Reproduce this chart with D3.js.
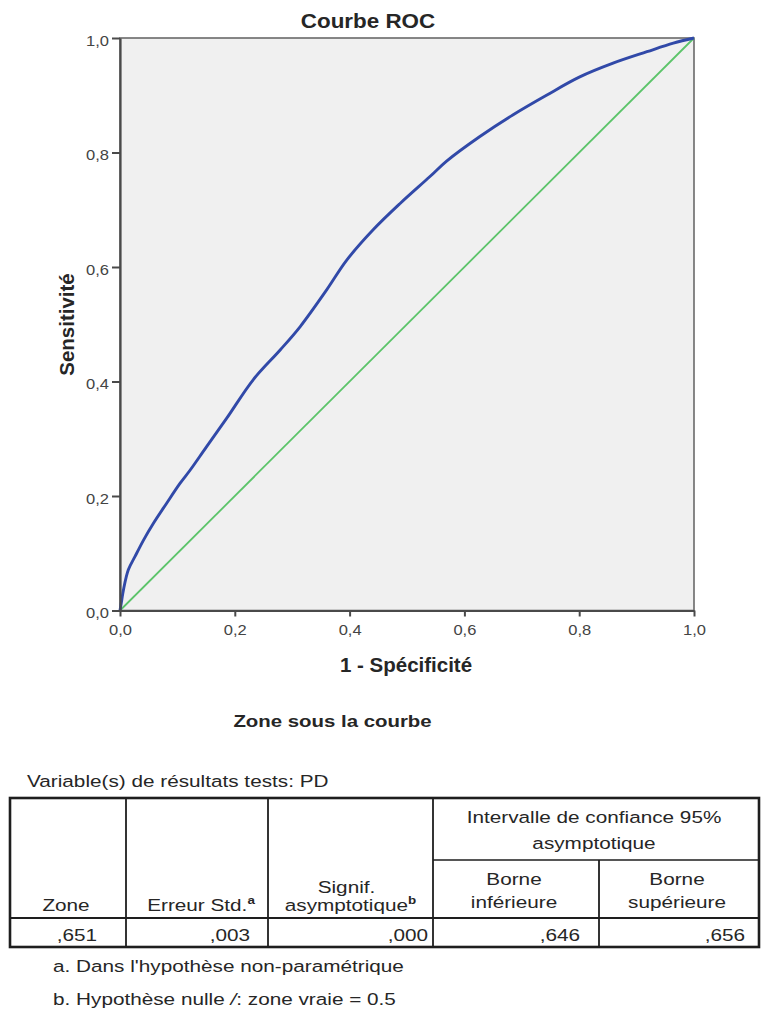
<!DOCTYPE html>
<html>
<head>
<meta charset="utf-8">
<script src="https://cdn.jsdelivr.net/npm/d3@7"></script>
<style>
  html, body { margin: 0; padding: 0; background: #fff; }
  svg { display: block; font-family: "Liberation Sans", Arial, sans-serif; }
</style>
</head>
<body>
<svg id="chart" width="763" height="1018"></svg>
<script>
// ROC curve: 1 - specificity (false positive rate) vs sensitivity
const fpr = [0, 0.003, 0.006, 0.0145, 0.026, 0.041, 0.058, 0.081, 0.1045, 0.122, 0.15, 0.186,
             0.232, 0.279, 0.314, 0.36, 0.395, 0.441, 0.488, 0.54, 0.569, 0.627, 0.685, 0.743,
             0.801, 0.859, 0.918, 0.964, 1];
const tpr = [0, 0.018, 0.036, 0.071, 0.094, 0.123, 0.152, 0.187, 0.222, 0.245, 0.285, 0.336,
             0.403, 0.455, 0.496, 0.56, 0.612, 0.665, 0.711, 0.758, 0.785, 0.828, 0.866, 0.9,
             0.932, 0.956, 0.976, 0.991, 1];
// reference (chance) diagonal
const refLine = [0, 1];
const axisTicks = [0, 0.2, 0.4, 0.6, 0.8, 1.0];

// area under the curve table
const aucColumns = ["Zone", "Erreur Std.", "Signif. asymptotique", "Borne inférieure", "Borne supérieure"];
const aucValues = [0.651, 0.003, 0.000, 0.646, 0.656];

const svg = d3.select("#chart");
const INK = "#262626";
const REG_SX = 1.22;   // wide rendering of the regular face

function txt(parent, x, y, str, o = {}) {
  const t = parent.append("text")
    .attr("transform", `translate(${x},${y}) scale(${o.sx || 1},1)` + (o.rot ? ` rotate(${o.rot})` : ""))
    .attr("text-anchor", o.anchor || "start")
    .attr("font-size", o.size || 17)
    .attr("font-weight", o.weight || "normal")
    .attr("fill", o.fill || INK);
  if (str !== null) t.text(str);
  return t;
}

const comma = v => d3.format(".1f")(v).replace(".", ",");
const spss = v => d3.format(".3f")(v).replace(/^0\./, ",");

// ---------- chart ----------
const x = d3.scaleLinear().domain([0, 1]).range([120, 694]);
const y = d3.scaleLinear().domain([0, 1]).range([610.5, 38]);

svg.append("rect")
  .attr("x", x(0)).attr("y", y(1))
  .attr("width", x(1) - x(0)).attr("height", y(0) - y(1))
  .attr("fill", "#f0f0f0")
  .attr("stroke", "#6a6a6a").attr("stroke-width", 1.6);

// chance diagonal
svg.append("path")
  .datum(refLine)
  .attr("d", d3.line().x(d => x(d)).y(d => y(d)))
  .attr("fill", "none").attr("stroke", "#5cc46a").attr("stroke-width", 1.8);

// ROC curve
svg.append("path")
  .datum(d3.range(fpr.length))
  .attr("d", d3.line().curve(d3.curveCatmullRom.alpha(0.5)).x(i => x(fpr[i])).y(i => y(tpr[i])))
  .attr("fill", "none").attr("stroke", "#3149a8").attr("stroke-width", 2.9)
  .attr("stroke-linejoin", "round");

const TICK_SX = 1.18;
const yAxis = svg.append("g")
  .attr("transform", `translate(${x(0)},0)`)
  .call(d3.axisLeft(y).tickValues(axisTicks).tickFormat(comma).tickSize(8).tickSizeOuter(0).tickPadding(3));
const xAxis = svg.append("g")
  .attr("transform", `translate(0,${y(0)})`)
  .call(d3.axisBottom(x).tickValues(axisTicks).tickFormat(comma).tickSize(6).tickSizeOuter(0).tickPadding(3));

[yAxis, xAxis].forEach(g => {
  g.select(".domain").attr("stroke", "#4a4a4a").attr("stroke-width", 2.2);
  g.selectAll(".tick line").attr("stroke", "#4a4a4a").attr("stroke-width", 2);
  g.selectAll(".tick text")
    .attr("font-family", "'Liberation Sans', Arial, sans-serif")
    .attr("font-size", 14).attr("fill", "#444");
});
yAxis.selectAll(".tick text")
  .attr("x", -11 / TICK_SX).attr("dy", null).attr("y", 7)
  .attr("transform", `scale(${TICK_SX},1)`);
xAxis.selectAll(".tick text")
  .attr("dy", null).attr("y", 25)
  .attr("transform", `scale(${TICK_SX},1)`);

txt(svg, 368, 28, "Courbe ROC", { size: 20, weight: "bold", anchor: "middle", sx: 1.12 });
txt(svg, 406, 672, "1 - Spécificité", { size: 20.5, weight: "bold", anchor: "middle" });
txt(svg, 74, 324.5, "Sensitivité", { size: 20.5, weight: "bold", anchor: "middle", rot: -90 });

// ---------- AUC table ----------
txt(svg, 332.5, 727, "Zone sous la courbe", { size: 17, weight: "bold", anchor: "middle", sx: 1.2 });
txt(svg, 27, 787, "Variable(s) de résultats tests: PD", { sx: REG_SX });

const colX = [10, 126, 268, 433, 599, 759];
const rowY = [798, 860, 918, 947];
const tbl = svg.append("g").attr("stroke", "#1e1e1e").attr("fill", "none");
// inner rules
tbl.append("line").attr("x1", colX[3]).attr("x2", colX[5]).attr("y1", rowY[1]).attr("y2", rowY[1]).attr("stroke-width", 1.6);
tbl.append("line").attr("x1", colX[0]).attr("x2", colX[5]).attr("y1", rowY[2]).attr("y2", rowY[2]).attr("stroke-width", 2.2);
[1, 2, 3].forEach(i => tbl.append("line").attr("x1", colX[i]).attr("x2", colX[i])
  .attr("y1", rowY[0]).attr("y2", rowY[3]).attr("stroke-width", 1.8));
tbl.append("line").attr("x1", colX[4]).attr("x2", colX[4]).attr("y1", rowY[1]).attr("y2", rowY[3]).attr("stroke-width", 1.8);
tbl.append("rect").attr("x", colX[0]).attr("y", rowY[0])
  .attr("width", colX[5] - colX[0]).attr("height", rowY[3] - rowY[0]).attr("stroke-width", 2.6);

const mid = i => (colX[i] + colX[i + 1]) / 2;
const sup = (t, ch) => t.append("tspan").attr("font-size", 11).attr("font-weight", "bold")
  .attr("dy", -7).text(ch);

txt(svg, (colX[3] + colX[5]) / 2 - 2, 823, "Intervalle de confiance 95%", { anchor: "middle", sx: REG_SX });
txt(svg, (colX[3] + colX[5]) / 2 - 2, 849, "asymptotique", { anchor: "middle", sx: REG_SX });

txt(svg, mid(0) - 2, 911, aucColumns[0], { anchor: "middle", sx: REG_SX });
const eStd = txt(svg, mid(1) + 4, 911, null, { anchor: "middle", sx: REG_SX });
eStd.append("tspan").text(aucColumns[1]);
sup(eStd, "a");
const sigWords = aucColumns[2].split(" ");
txt(svg, mid(2) - 4, 893, sigWords[0], { anchor: "middle", sx: REG_SX });
const sig2 = txt(svg, mid(2), 911, null, { anchor: "middle", sx: REG_SX });
sig2.append("tspan").text(sigWords[1]);
sup(sig2, "b");
[3, 4].forEach(i => {
  const w = aucColumns[i].split(" ");
  txt(svg, mid(i) - 2, 885, w[0], { anchor: "middle", sx: REG_SX });
  txt(svg, mid(i) - 2, 908, w[1], { anchor: "middle", sx: REG_SX });
});

const valPad = [29, 18, 5, 19, 14];
aucValues.forEach((v, i) => {
  txt(svg, colX[i + 1] - valPad[i], 941, spss(v), { anchor: "end", sx: REG_SX });
});

txt(svg, 53, 972, "a. Dans l'hypothèse non-paramétrique", { sx: REG_SX });
const fnB = txt(svg, 53, 1005, null, { sx: REG_SX });
fnB.append("tspan").text("b. Hypothèse nulle ");
fnB.append("tspan").attr("font-style", "italic").text("/");
fnB.append("tspan").text(": zone vraie = 0.5");
</script>
</body>
</html>
